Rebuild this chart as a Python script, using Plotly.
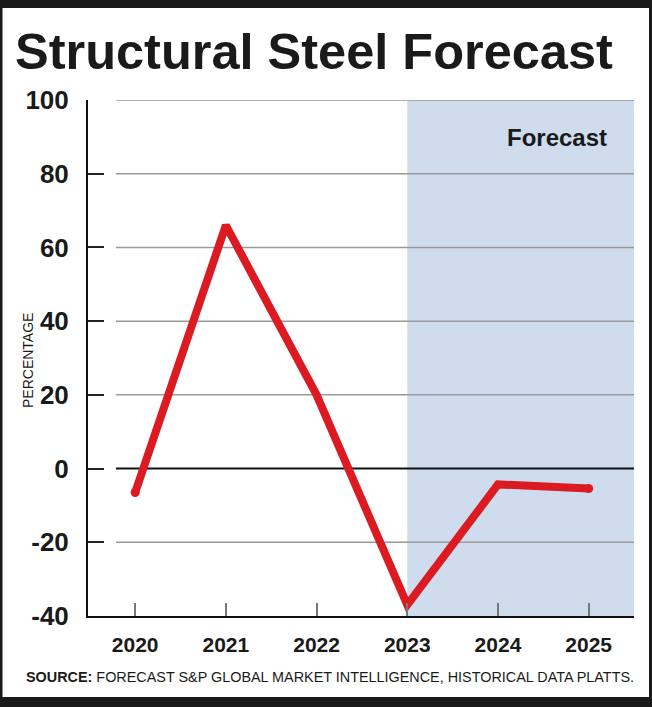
import plotly.graph_objects as go

# ---- data ----
years = [2020, 2021, 2022, 2023, 2024, 2025]
pct_change = [-6.5, 66, 20, -37, -4.3, -5.4]
forecast_start = 2023
y_ticks = [-40, -20, 0, 20, 40, 60, 80, 100]
y_tick_labels = ["-40", "-20", "0", "20", "40", "60", "80", "100"]
x_tick_labels = ["2020", "2021", "2022", "2023", "2024", "2025"]

# ---- layout geometry (pixels) ----
W, H = 652, 707
L, R, T, B = 88, 18, 100, 91
pw, ph = W - L - R, H - T - B


def px_x(x):
    return (x - L) / pw


def px_y(y):
    return (H - B - y) / ph


FONT = "Liberation Sans, Arial, Helvetica, sans-serif"
RED = "#db1a22"
INK = "#1a1a1a"

fig = go.Figure()

marker_sizes = [9 if i in (0, len(years) - 1) else 0 for i in range(len(years))]
fig.add_trace(go.Scatter(
    x=years, y=pct_change, mode="lines+markers",
    line=dict(color=RED, width=8),
    marker=dict(color=RED, size=marker_sizes, opacity=1, line=dict(width=0)),
    hoverinfo="x+y", showlegend=False,
))

shapes = []
# forecast shading
shapes.append(dict(type="rect", xref="x", yref="paper", x0=forecast_start, x1=2025.5,
                   y0=0, y1=1, fillcolor="#cfdcee", line=dict(width=0), layer="below"))
# gridlines (with gap after the tick marks)
for v in y_ticks[1:]:
    is_zero = (v == 0)
    shapes.append(dict(type="line", xref="paper", yref="y", x0=px_x(116), x1=1, y0=v, y1=v,
                       line=dict(color="#111111" if is_zero else "#9a9a9a",
                                 width=2 if is_zero else 1.5),
                       layer="below"))
# black frame
frame = "#1a1a1a"
shapes.append(dict(type="rect", xref="paper", yref="paper", x0=px_x(0), x1=px_x(W),
                   y0=px_y(0), y1=px_y(8), fillcolor=frame, line=dict(width=0)))
shapes.append(dict(type="rect", xref="paper", yref="paper", x0=px_x(0), x1=px_x(W),
                   y0=px_y(697), y1=px_y(H), fillcolor=frame, line=dict(width=0)))
shapes.append(dict(type="rect", xref="paper", yref="paper", x0=px_x(0), x1=px_x(2.5),
                   y0=px_y(0), y1=px_y(H), fillcolor=frame, line=dict(width=0)))
shapes.append(dict(type="rect", xref="paper", yref="paper", x0=px_x(649), x1=px_x(W),
                   y0=px_y(0), y1=px_y(H), fillcolor=frame, line=dict(width=0)))

annotations = [
    dict(text="<b>Forecast</b>", xref="paper", yref="paper", x=px_x(609), y=px_y(137),
         xanchor="right", yanchor="middle", showarrow=False,
         font=dict(family=FONT, size=24, color=INK)),
    dict(text="PERCENTAGE", xref="paper", yref="paper", x=px_x(28), y=px_y(361),
         xanchor="center", yanchor="middle", textangle=-90, showarrow=False,
         font=dict(family=FONT, size=14, color=INK)),
    dict(text="<b>SOURCE:</b> FORECAST S&P GLOBAL MARKET INTELLIGENCE, HISTORICAL DATA PLATTS.",
         xref="paper", yref="paper", x=px_x(24), y=px_y(677),
         xanchor="left", yanchor="middle", showarrow=False,
         font=dict(family=FONT, size=14.4, color=INK)),
]

fig.update_layout(
    width=W, height=H,
    margin=dict(l=L, r=R, t=T, b=B, pad=0),
    paper_bgcolor="white", plot_bgcolor="rgba(0,0,0,0)",
    title=dict(text="<b>Structural Steel Forecast</b>", x=15 / W, xanchor="left",
               y=1 - 51 / H, yanchor="middle", yref="container",
               font=dict(family=FONT, size=50.5, color=INK)),
    shapes=shapes, annotations=annotations,
    xaxis=dict(range=[2019.48, 2025.5], tickmode="array", tickvals=years, ticktext=x_tick_labels,
               showgrid=False, zeroline=False, showline=True, linecolor="#111111", linewidth=2,
               ticks="inside", ticklen=13, tickwidth=1.5, tickcolor="#777777",
               ticklabelstandoff=9,
               tickfont=dict(family=FONT, size=21, color=INK, weight="bold")),
    yaxis=dict(range=[-40, 100], tickmode="array", tickvals=y_ticks, ticktext=y_tick_labels,
               showgrid=False, zeroline=False, showline=True, linecolor="#111111", linewidth=2,
               ticks="inside", ticklen=16, tickwidth=2, tickcolor="#222222",
               ticklabelstandoff=12,
               tickfont=dict(family=FONT, size=26, color=INK, weight="bold")),
)

fig.write_html(
    "out.html",
    config={"displayModeBar": False},
    post_script="document.body.style.margin='0';document.body.style.overflow='hidden';",
)
